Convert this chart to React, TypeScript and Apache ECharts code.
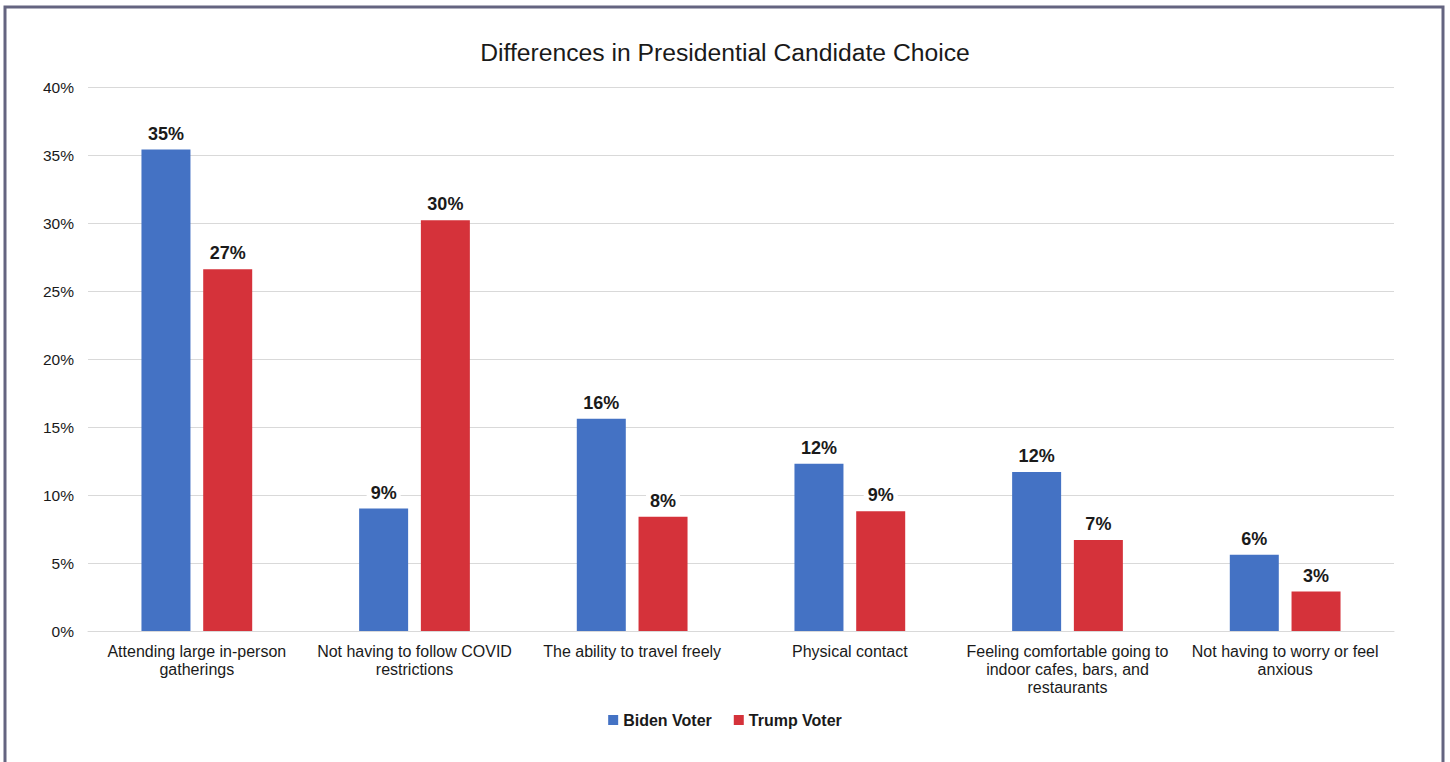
import React, { useEffect, useRef } from "react";
import * as echarts from "echarts";

const categories = [
  "Attending large in-person\ngatherings",
  "Not having to follow COVID\nrestrictions",
  "The ability to travel freely",
  "Physical contact",
  "Feeling comfortable going to\nindoor cafes, bars, and\nrestaurants",
  "Not having to worry or feel\nanxious",
];
const bidenValues = [35.4, 9.0, 15.6, 12.3, 11.7, 5.6];
const trumpValues = [26.6, 30.2, 8.4, 8.8, 6.7, 2.9];
const yTicks = [0, 5, 10, 15, 20, 25, 30, 35, 40];

const FONT = "Liberation Sans, Arial, sans-serif";

export default function App() {
  const ref = useRef<HTMLDivElement>(null);
  useEffect(() => {
    if (!ref.current) return;
    const chart = echarts.init(ref.current, null, { renderer: "svg" });
    const label = {
      show: true,
      position: "top",
      distance: 5,
      formatter: (p: any) => Math.round(p.value) + "%",
      fontFamily: FONT,
      fontSize: 18,
      fontWeight: "bold",
      color: "#1a1a1a",
      backgroundColor: "#ffffff",
      padding: [2, 4],
    };
    chart.setOption({
      animation: false,
      backgroundColor: "#ffffff",
      textStyle: { fontFamily: FONT },
      title: {
        text: "Differences in Presidential Candidate Choice",
        left: "center",
        top: 35,
        textStyle: { fontFamily: FONT, fontSize: 24.7, fontWeight: "normal", color: "#1a1a1a" },
      },
      graphic: [
        {
          type: "rect",
          shape: { x: 5, y: 7, width: 1438, height: 800 },
          style: { fill: "none", stroke: "#646480", lineWidth: 3 },
          silent: true,
        },
      ],
      legend: {
        bottom: 29,
        left: "center",
        itemWidth: 10,
        itemHeight: 10,
        itemGap: 22,
        icon: "rect",
        textStyle: { fontFamily: FONT, fontSize: 16, fontWeight: "bold", color: "#1a1a1a" },
        data: ["Biden Voter", "Trump Voter"],
      },
      grid: { left: 88, right: 56, top: 87, bottom: 131, containLabel: false },
      xAxis: {
        type: "category",
        data: categories,
        axisLine: { show: true, lineStyle: { color: "#d9d9d9", width: 1 } },
        axisTick: { show: false },
        axisLabel: {
          interval: 0,
          margin: 11,
          fontFamily: FONT,
          fontSize: 16,
          lineHeight: 18,
          color: "#1a1a1a",
        },
      },
      yAxis: {
        type: "value",
        min: yTicks[0],
        max: yTicks[yTicks.length - 1],
        interval: 5,
        axisLine: { show: false },
        axisTick: { show: false },
        splitLine: { lineStyle: { color: "#d9d9d9", width: 1 } },
        axisLabel: {
          formatter: (v: number) => v + "%",
          margin: 14,
          fontFamily: FONT,
          fontSize: 15.5,
          color: "#1a1a1a",
        },
      },
      series: [
        {
          name: "Biden Voter",
          type: "bar",
          data: bidenValues,
          barWidth: 49,
          barGap: "26%",
          itemStyle: { color: "#4472C4" },
          label,
        },
        {
          name: "Trump Voter",
          type: "bar",
          data: trumpValues,
          barWidth: 49,
          barGap: "26%",
          itemStyle: { color: "#D5323A" },
          label,
        },
      ],
    });
    return () => chart.dispose();
  }, []);
  return (
    <div
      ref={ref}
      style={{ position: "fixed", left: 0, top: 0, width: 1450, height: 762 }}
    />
  );
}
